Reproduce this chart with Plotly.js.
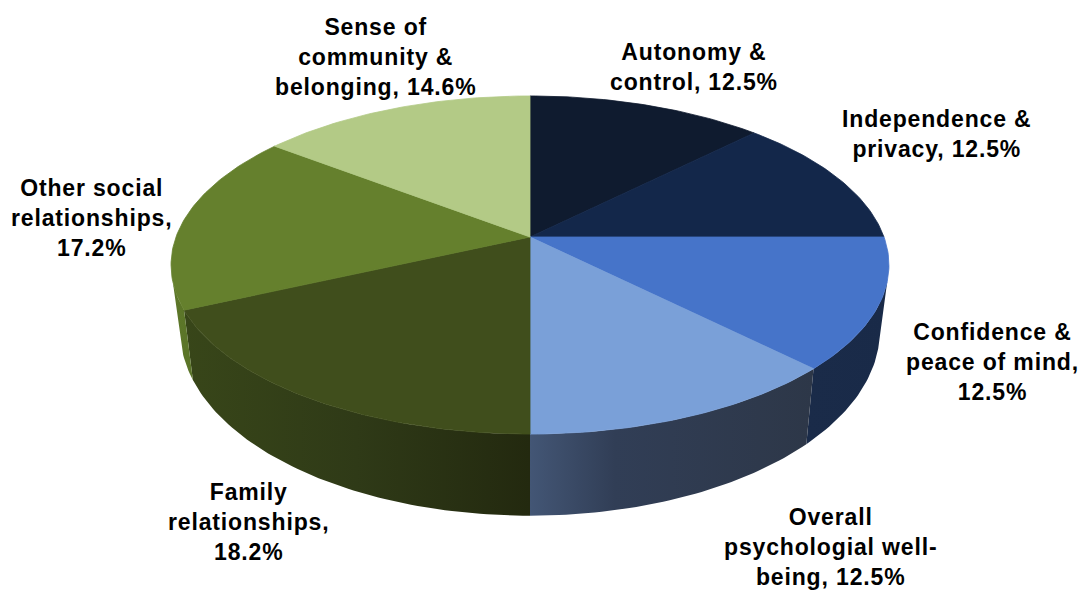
<!DOCTYPE html>
<html>
<head>
<meta charset="utf-8">
<script src="https://cdn.plot.ly/plotly-3.0.1.min.js"></script>
<style>
html,body{margin:0;padding:0;background:#fff;overflow:hidden}
.annotation-text{letter-spacing:0.85px}
</style>
</head>
<body>
<div id="chart" style="width:1083px;height:591px"></div>
<script>
// Data, clockwise from twelve o'clock
const categories = ["Autonomy &<br>control,", "Independence &<br>privacy,", "Confidence &<br>peace of mind,<br>", "Overall<br>psychologial well-<br>being,", "Family<br>relationships,<br>", "Other social<br>relationships,<br>", "Sense of<br>community &<br>belonging,"];
const shareValues = [12.5, 12.5, 12.5, 12.5, 18.2, 17.2, 14.6];

// Styles
const topColors = ["#0f1b2f", "#13274a", "#4674c9", "#7aa0d8", "#404e1c", "#65802d", "#b3ca86"];
const wallScales = [
  null, null,
  [[0, "#1a2b49"], [1, "#192a48"]],
  [[0, "#435675"], [0.3, "#313e56"], [1, "#2d3748"]],
  [[0, "#384619"], [0.5, "#2f3a17"], [1, "#23290f"]],
  [[0, "#5d7729"], [1, "#5a7428"]],
  null
];
const labelX = [694, 937, 992, 830, 248, 91, 375];
const labelY = [67, 134, 362, 547, 522, 218, 57];

// Perspective projection of the pie disc into page space
const persp = 0.1657;
const topPlane = {cx: 530, cy: 237, a: 354, b: 164.4};
const basePlane = {cx: 530, cy: 300, a: 345, b: 180};
function project(plane, deg) {
  const t = deg * Math.PI / 180, u = Math.sin(t), v = -Math.cos(t), w = 1 - persp * v;
  return [plane.cx + plane.a * u / w, plane.cy + plane.b * v / w];
}
function arc(plane, from, to) {
  const out = [], n = Math.max(2, Math.ceil(Math.abs(to - from)));
  for (let i = 0; i <= n; i++) out.push(project(plane, from + (to - from) * i / n));
  return out;
}

const total = shareValues.reduce((s, v) => s + v, 0);
const edges = [0];
shareValues.forEach((v, i) => edges.push(edges[i] + v / total * 360));
const wallStart = 105, wallEnd = 255;

const walls = [], tops = [];
shareValues.forEach((v, i) => {
  const name = categories[i].replace(/<br>/g, " ").trim() + " " + v.toFixed(1) + "%";
  if (wallScales[i]) {
    const a = Math.max(edges[i], wallStart), b = Math.min(edges[i + 1], wallEnd);
    const pts = arc(topPlane, a, b).concat(arc(basePlane, b, a));
    walls.push({
      type: "scatter", mode: "lines", x: pts.map(p => p[0]), y: pts.map(p => p[1]),
      fill: "toself", line: {width: 0}, name: name, hoverinfo: "name",
      fillgradient: {type: "horizontal", colorscale: wallScales[i]}
    });
  }
  const pts = [[topPlane.cx, topPlane.cy]].concat(arc(topPlane, edges[i], edges[i + 1]));
  pts.push(pts[0]);
  tops.push({
    type: "scatter", mode: "lines", x: pts.map(p => p[0]), y: pts.map(p => p[1]),
    fill: "toself", fillcolor: topColors[i], line: {width: 0.8, color: topColors[i]}, name: name, hoverinfo: "name"
  });
});

const annotations = categories.map((c, i) => ({
  x: labelX[i], y: labelY[i], xref: "x", yref: "y", showarrow: false,
  xanchor: "center", yanchor: "middle", align: "center",
  text: "<b>" + c + (c.endsWith("<br>") ? "" : " ") + shareValues[i].toFixed(1) + "%</b>",
  font: {family: "Liberation Sans, Arial, sans-serif", size: 23, color: "#000"}
}));

Plotly.newPlot("chart", walls.concat(tops), {
  width: 1083, height: 591, showlegend: false,
  margin: {l: 0, r: 0, t: 0, b: 0},
  paper_bgcolor: "#fff", plot_bgcolor: "#fff",
  xaxis: {range: [0, 1083], visible: false, fixedrange: true},
  yaxis: {range: [591, 0], visible: false, fixedrange: true},
  annotations: annotations
}, {displayModeBar: false, responsive: false});
</script>
</body>
</html>
